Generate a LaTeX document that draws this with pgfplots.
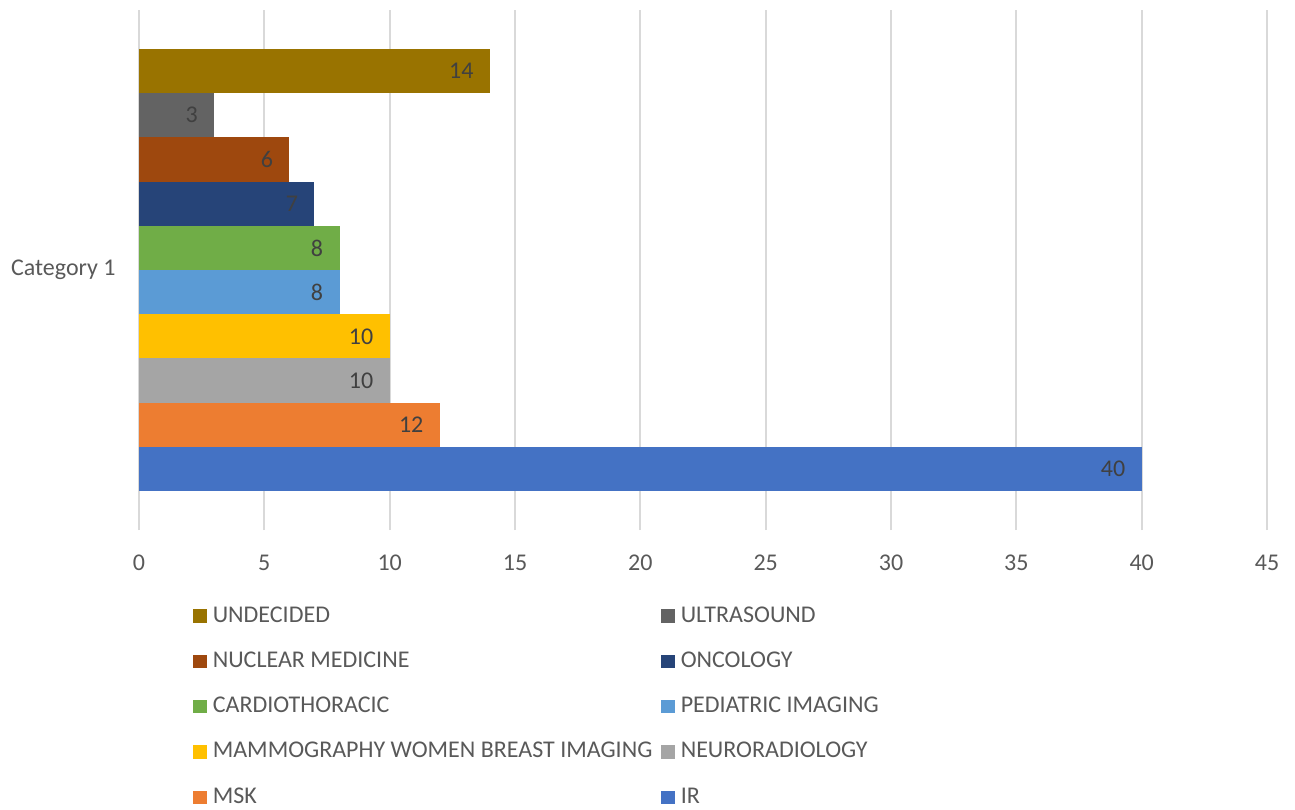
\documentclass[border=0pt]{standalone}
\usepackage{pgfplots}
\pgfplotsset{compat=1.18}
\usepackage{fontspec}
\setmainfont{Carlito}
\definecolor{cUnd}{HTML}{997300}
\definecolor{cUs}{HTML}{636363}
\definecolor{cNm}{HTML}{9E480E}
\definecolor{cOnc}{HTML}{264478}
\definecolor{cCar}{HTML}{70AD47}
\definecolor{cPed}{HTML}{5B9BD5}
\definecolor{cMam}{HTML}{FFC000}
\definecolor{cNeu}{HTML}{A5A5A5}
\definecolor{cMsk}{HTML}{ED7D31}
\definecolor{cIr}{HTML}{4472C4}
\definecolor{gridc}{HTML}{D9D9D9}
\definecolor{tickc}{HTML}{595959}
\definecolor{labc}{HTML}{404040}
\begin{document}
\fontsize{12}{14}\selectfont
\begin{tikzpicture}
\path[use as bounding box] (-69.5pt,-139.5pt) rectangle (578pt,265pt);
\begin{axis}[
    scale only axis,
    width=564pt, height=260pt,
    xbar, bar shift=0pt, bar width=1,
    xmin=0, xmax=45, ymin=-0.38, ymax=11.38,
    xtick={0,5,...,45},
    ytick={5.5}, yticklabels={Category 1},
    xmajorgrids,
    grid style={color=gridc, line width=1pt},
    axis line style={draw=none},
    major tick length=0pt,
    tick label style={font=\fontsize{12}{14}\selectfont, text=tickc},
    /pgf/number format/assume math mode=true,
    xticklabel style={anchor=center, yshift=-16.5pt},
    yticklabel style={anchor=east, inner sep=0pt, xshift=-11.5pt},
    nodes near coords,
    every node near coord/.append style={anchor=east, inner sep=0pt, xshift=-8pt,
        font=\fontsize{12}{14}\selectfont, text=labc},
    legend columns=2,
    legend cell align=left,
    legend style={at={(0.0479,-0.1388)}, anchor=north west, draw=none, fill=none,
        inner sep=0pt, font=\fontsize{12}{14}\selectfont, text=tickc,
        row sep=9.05pt,
        /tikz/every odd column/.append style={column sep=1pt},
        /tikz/every even column/.append style={column sep=2.5pt}},
    legend image code/.code={\fill[#1] (0pt,-3.35pt) rectangle (6.7pt,3.35pt);},
]
\addplot[fill=cUnd, draw=none] coordinates {(14,10)};
\addlegendentry{UNDECIDED}
\addplot[fill=cUs, draw=none] coordinates {(3,9)};
\addlegendentry{ULTRASOUND}
\addplot[fill=cNm, draw=none] coordinates {(6,8)};
\addlegendentry{NUCLEAR MEDICINE}
\addplot[fill=cOnc, draw=none] coordinates {(7,7)};
\addlegendentry{ONCOLOGY}
\addplot[fill=cCar, draw=none] coordinates {(8,6)};
\addlegendentry{CARDIOTHORACIC}
\addplot[fill=cPed, draw=none] coordinates {(8,5)};
\addlegendentry{PEDIATRIC IMAGING}
\addplot[fill=cMam, draw=none] coordinates {(10,4)};
\addlegendentry{MAMMOGRAPHY WOMEN BREAST IMAGING}
\addplot[fill=cNeu, draw=none] coordinates {(10,3)};
\addlegendentry{NEURORADIOLOGY}
\addplot[fill=cMsk, draw=none] coordinates {(12,2)};
\addlegendentry{MSK}
\addplot[fill=cIr, draw=none] coordinates {(40,1)};
\addlegendentry{IR}
\end{axis}
\end{tikzpicture}
\end{document}
